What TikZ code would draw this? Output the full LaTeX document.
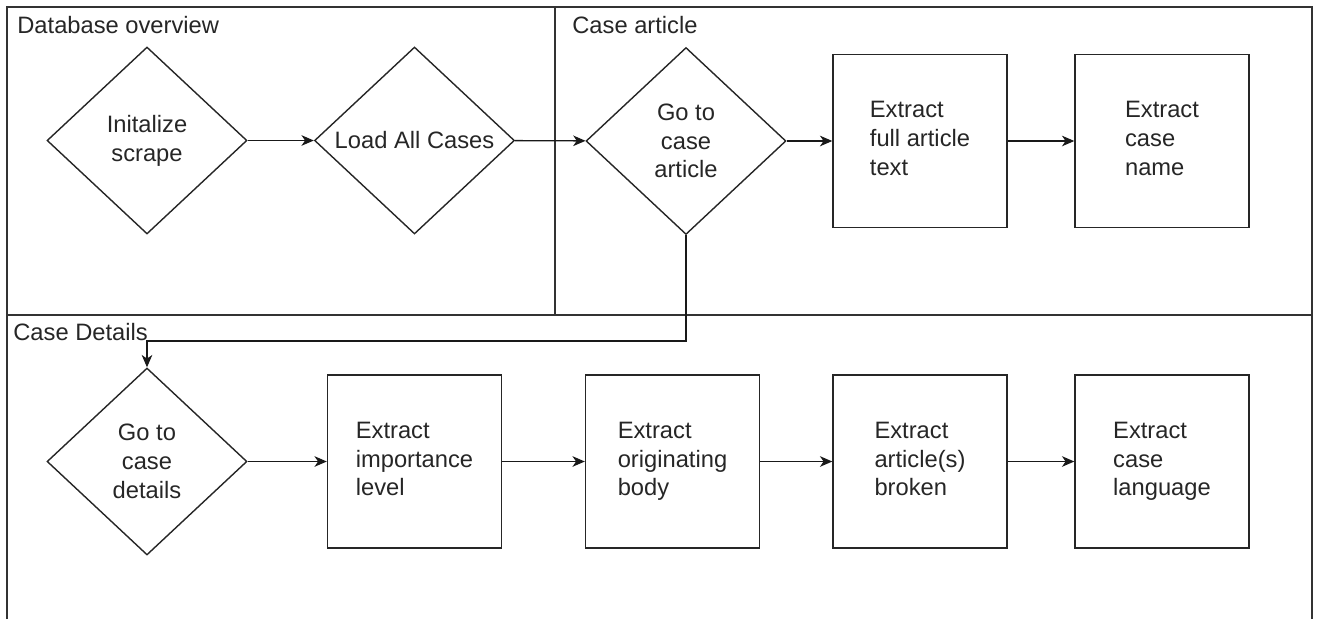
\documentclass[tikz,border=0pt]{standalone}
\usepackage{fontspec}
\setmainfont{Liberation Sans}
\usepackage{tikz}
\usetikzlibrary{positioning,arrows.meta,shapes.geometric}

\begin{document}
\begin{tikzpicture}[
  x=0.02cm,y=-0.02cm,
  stepbox/.style={rectangle,draw=black!85,line width=0.8pt,minimum width=3.48cm,minimum height=3.46cm,align=left,text=black!85,font=\fontsize{13.5}{16.4}\selectfont,execute at begin node=\rule{0pt}{15pt},execute at end node=\rule[-3pt]{0pt}{0pt}},
  decision/.style={diamond,draw=black!85,line width=0.8pt,minimum width=4cm,minimum height=3.74cm,inner sep=1pt,align=center,text=black!85,font=\fontsize{13.5}{16.4}\selectfont},
  arrow/.style={->,>={Stealth[length=7pt,width=6pt,inset=2pt]},line width=0.8pt,black!90},
  lane/.style={line width=0.8pt,black!80},
  lanelabel/.style={anchor=west,inner sep=0pt,text=black!85,font=\fontsize{13.5}{16.4}\selectfont},
]
\useasboundingbox (0,0) rectangle (1318,619);

% === LANES ===
\draw[lane] (7,619) -- (7,7) -- (1312,7) -- (1312,619);
\draw[lane] (7,315) -- (1312,315);
\draw[lane] (555,7) -- (555,315);

\node[lanelabel] (overviewlbl) at (17,25) {Database overview};
\node[lanelabel] (articlelbl) at (572,25) {Case article};
\node[lanelabel] (detailslbl) at (13,332) {Case Details};

% === DATABASE OVERVIEW ===
\node[decision] (init) at (147,140.5) {Initalize\\scrape};
\node[decision] (loadall) at (414.5,140.5) {Load All Cases};

% === CASE ARTICLE ===
\node[decision] (gotoarticle) at (686,141) {Go to\\case\\article};
\node[stepbox] (fulltext) at (920,141) {Extract\\full article\\text};
\node[stepbox] (casename) at (1162,141) {Extract\\case\\name};

% === CASE DETAILS ===
\node[decision] (gotodetails) at (147,461.5) {Go to\\case\\details};
\node[stepbox] (importance) at (414.5,461.5) {Extract\\importance\\level};
\node[stepbox] (origbody) at (672.5,461.5) {Extract\\originating\\body};
\node[stepbox] (broken) at (920,461.5) {Extract\\article(s)\\broken};
\node[stepbox] (language) at (1162,461.5) {Extract\\case\\language};

% Arrows
\draw[arrow] (init) -- (loadall);
\draw[arrow] (loadall) -- (gotoarticle);
\draw[arrow] (gotoarticle) -- (fulltext);
\draw[arrow] (fulltext) -- (casename);

\coordinate (turn) at (686,341);
\draw[arrow] (gotoarticle.south) -- (turn) -| (gotodetails.north);

\draw[arrow] (gotodetails) -- (importance);
\draw[arrow] (importance) -- (origbody);
\draw[arrow] (origbody) -- (broken);
\draw[arrow] (broken) -- (language);

\end{tikzpicture}
\end{document}
